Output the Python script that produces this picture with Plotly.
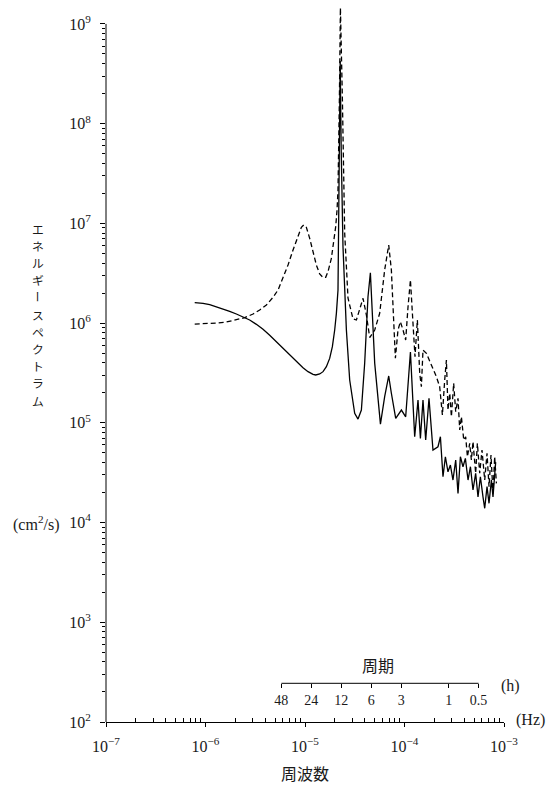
import plotly.graph_objects as go

# ---------------- data ----------------
freq_solid = [7.79e-7, 9.45e-7, 1.102e-6, 1.286e-6, 1.501e-6, 1.750e-6, 2.043e-6, 2.384e-6, 2.780e-6, 3.245e-6,
              3.786e-6, 4.418e-6, 5.157e-6, 6.014e-6, 7.018e-6, 8.19e-6, 9.55e-6, 1.073e-5, 1.204e-5, 1.281e-5,
              1.405e-5, 1.518e-5, 1.640e-5, 1.770e-5, 1.884e-5, 1.988e-5, 2.067e-5, 2.146e-5,
              2.216e-5, 2.258e-5, 2.311e-5, 2.409e-5, 2.606e-5, 2.813e-5, 3.158e-5,
              3.41e-5, 3.687e-5, 3.98e-5, 4.296e-5, 4.54e-5, 5.02e-5, 5.73e-5, 6.32e-5, 6.94e-5, 7.38e-5,
              8.16e-5, 9.31e-5, 1.028e-4, 1.147e-4, 1.266e-4, 1.367e-4, 1.445e-4, 1.534e-4, 1.633e-4, 1.763e-4,
              1.933e-4, 2.17e-4, 2.295e-4, 2.437e-4, 2.576e-4, 2.736e-4, 2.892e-4, 3.07e-4, 3.27e-4, 3.45e-4,
              3.646e-4, 3.87e-4, 4.09e-4, 4.35e-4, 4.60e-4, 4.88e-4, 5.19e-4, 5.48e-4, 5.79e-4, 6.15e-4,
              6.40e-4, 6.75e-4, 7.07e-4, 7.47e-4, 7.75e-4, 8.25e-4]
spec_solid = [1.603e6, 1.579e6, 1.530e6, 1.461e6, 1.395e6, 1.312e6, 1.234e6, 1.160e6, 1.074e6, 9.72e5,
              8.66e5, 7.54e5, 6.51e5, 5.58e5, 4.79e5, 4.10e5, 3.57e5, 3.26e5, 3.06e5, 3.02e5,
              3.09e5, 3.26e5, 3.66e5, 4.43e5, 5.80e5, 8.53e5, 1.253e6, 2.15e6,
              5.45e7, 4.25e8, 5.45e7, 5.84e6, 8.53e5, 2.69e5, 1.245e5,
              1.09e5, 1.344e5, 3.98e5, 1.84e6, 3.20e6, 3.95e5, 9.72e4, 1.83e5, 2.95e5, 1.98e5,
              1.11e5, 1.344e5, 1.15e5, 5.13e5, 7.25e4, 1.69e5, 6.99e4, 1.69e5, 6.72e4, 1.76e5,
              5.34e4, 5.76e4, 7.25e4, 2.88e4, 4.57e4, 3.23e4, 3.77e4, 2.67e4, 4.24e4, 1.96e4,
              4.57e4, 3.63e4, 4.40e4, 2.67e4, 3.63e4, 2.12e4, 3.12e4, 1.81e4, 2.88e4, 1.81e4,
              1.39e4, 2.29e4, 1.56e4, 2.67e4, 1.81e4, 4.04e4]

freq_dashed = [7.79e-7, 1.020e-6, 1.286e-6, 1.621e-6, 2.043e-6, 2.477e-6, 3.004e-6, 3.505e-6, 4.09e-6, 4.772e-6,
               5.358e-6, 6.014e-6, 6.75e-6, 7.58e-6, 8.51e-6, 9.19e-6, 9.70e-6, 1.032e-5, 1.115e-5, 1.204e-5,
               1.301e-5, 1.405e-5, 1.518e-5, 1.614e-5, 1.703e-5, 1.841e-5, 1.943e-5, 2.035e-5, 2.099e-5, 2.146e-5,
               2.216e-5, 2.269e-5, 2.377e-5,
               2.506e-5, 2.705e-5, 3.037e-5, 3.285e-5, 3.546e-5, 3.83e-5, 4.14e-5, 4.47e-5, 5.02e-5, 5.63e-5,
               6.32e-5, 6.94e-5, 7.38e-5, 7.79e-5, 8.10e-5, 8.60e-5, 9.09e-5, 9.66e-5, 1.028e-4, 1.085e-4,
               1.147e-4, 1.217e-4, 1.275e-4, 1.347e-4, 1.422e-4, 1.478e-4, 1.534e-4, 1.66e-4, 1.864e-4, 2.092e-4,
               2.258e-4, 2.404e-4, 2.535e-4, 2.637e-4, 2.736e-4, 2.85e-4, 2.96e-4, 3.12e-4, 3.27e-4, 3.45e-4,
               3.59e-4, 3.73e-4, 3.94e-4, 4.12e-4, 4.29e-4, 4.52e-4, 4.70e-4, 4.88e-4, 5.19e-4, 5.40e-4,
               5.70e-4, 6.01e-4, 6.40e-4, 6.75e-4, 7.07e-4, 7.40e-4, 7.75e-4, 8.06e-4, 8.39e-4]
spec_dashed = [9.79e5, 9.87e5, 1.002e6, 1.026e6, 1.074e6, 1.134e6, 1.234e6, 1.353e6, 1.519e6, 1.814e6,
               2.148e6, 2.81e6, 3.82e6, 5.41e6, 7.65e6, 9.13e6, 9.64e6, 9.13e6, 7.08e6, 5.21e6,
               3.82e6, 3.11e6, 2.86e6, 2.88e6, 3.28e6, 4.46e6, 6.31e6, 9.27e6, 1.363e7, 2.16e7,
               1.73e8, 1.447e9, 1.73e8,
               7.96e6, 1.786e6, 1.10e6, 1.074e6, 1.418e6, 1.773e6, 1.206e6, 7.17e5, 8.53e5, 1.254e6,
               3.41e6, 6.07e6, 3.41e6, 8.53e5, 4.44e5, 8.53e5, 1.033e6, 8.53e5, 6.77e5, 1.46e6,
               2.71e6, 9.95e5, 4.60e5, 1.074e6, 3.14e5, 2.30e5, 5.37e5, 4.98e5, 3.80e5, 2.90e5,
               2.30e5, 1.197e5, 2.69e5, 4.26e5, 1.344e5, 1.98e5, 1.15e5, 2.49e5, 1.292e5, 1.76e5,
               8.47e4, 1.15e5, 6.72e4, 7.25e4, 4.57e4, 6.23e4, 4.24e4, 6.46e4, 3.12e4, 6.23e4,
               3.12e4, 5.34e4, 2.67e4, 4.94e4, 2.29e4, 4.75e4, 1.96e4, 4.57e4, 2.47e4]

period_hours = [48, 24, 12, 6, 3, 1, 0.5]
period_labels = ["48", "24", "12", "6", "3", "1", "0.5"]

x_tick_vals = [1e-7, 1e-6, 1e-5, 1e-4, 1e-3]
x_tick_text = ["10<sup>−7</sup>", "10<sup>−6</sup>", "10<sup>−5</sup>", "10<sup>−4</sup>", "10<sup>−3</sup>"]
y_tick_vals = [1e2, 1e3, 1e4, 1e5, 1e6, 1e7, 1e8, 1e9]
y_tick_text = ["10<sup>2</sup>", "10<sup>3</sup>", "10<sup>4</sup>", "10<sup>5</sup>",
               "10<sup>6</sup>", "10<sup>7</sup>", "10<sup>8</sup>", "10<sup>9</sup>"]

y_title_chars = list("エネルギースペクトラム")
y_unit = "(cm<sup>2</sup>/s)"
x_title = "周波数"
x_unit = "(Hz)"
period_title = "周期"
period_unit = "(h)"

# ---------------- layout constants ----------------
W, H = 558, 791
ML, MR, MT, MB = 106, 54, 7, 69
PW, PH = W - ML - MR, H - MT - MB
YMIN, YMAX = 2, 9.17
SERIF = "Liberation Serif, DejaVu Serif, serif"
JP = "Noto Sans CJK JP, Noto Sans CJK SC, sans-serif"
TXT = "#1a1a1a"


def px(x):
    return (x - ML) / PW


def py(y):
    return (H - MB - y) / PH


period_freq = [1.0 / (h * 3600.0) for h in period_hours]
PERIOD_POS = py(683.3)
period_line_y = 10 ** (YMIN + PERIOD_POS * (YMAX - YMIN))

fig = go.Figure()
fig.add_trace(go.Scatter(x=freq_solid, y=spec_solid, mode="lines",
                         line=dict(color="black", width=1.3), showlegend=False, hoverinfo="skip"))
fig.add_trace(go.Scatter(x=freq_dashed, y=spec_dashed, mode="lines",
                         line=dict(color="black", width=1.3, dash="5px,3px"), showlegend=False, hoverinfo="skip"))
# period scale axis line
fig.add_trace(go.Scatter(x=[period_freq[0], period_freq[-1]], y=[period_line_y, period_line_y],
                         xaxis="x2", mode="lines", line=dict(color="black", width=1),
                         showlegend=False, hoverinfo="skip"))

minor_y = [m * 10 ** k for k in range(2, 9) for m in range(2, 10)]
minor_x = [m * 10 ** k for k in range(-7, -3) for m in range(2, 10)]

fig.update_layout(
    width=W, height=H,
    margin=dict(l=ML, r=MR, t=MT, b=MB),
    paper_bgcolor="white", plot_bgcolor="white",
    font=dict(family=SERIF, size=16, color=TXT),
    xaxis=dict(type="log", range=[-7, -3], showgrid=False, zeroline=False,
               showline=True, linecolor="black", linewidth=1,
               ticks="outside", ticklen=4, tickcolor="black", tickwidth=1,
               tickmode="array", tickvals=x_tick_vals, ticktext=x_tick_text,
               ticklabelstandoff=6,
               tickfont=dict(family=SERIF, size=16, color=TXT),
               minor=dict(ticks="inside", ticklen=4, tickcolor="black", tickwidth=1,
                          tickmode="array", tickvals=minor_x, showgrid=False)),
    xaxis2=dict(type="log", range=[-7, -3], overlaying="x", anchor="free", position=PERIOD_POS,
                side="bottom", showgrid=False, zeroline=False, showline=False,
                ticks="outside", ticklen=4, tickcolor="black", tickwidth=1,
                tickmode="array", tickvals=period_freq, ticktext=period_labels,
                tickfont=dict(family=SERIF, size=14, color=TXT)),
    yaxis=dict(type="log", range=[YMIN, YMAX], showgrid=False, zeroline=False, showline=False,
               ticks="outside", ticklen=5, tickcolor="black", tickwidth=1,
               tickmode="array", tickvals=y_tick_vals, ticktext=y_tick_text,
               ticklabelstandoff=6,
               tickfont=dict(family=SERIF, size=16, color=TXT),
               minor=dict(ticks="outside", ticklen=3, tickcolor="black", tickwidth=1,
                          tickmode="array", tickvals=minor_y, showgrid=False)),
)

# y axis line from 10^2 to 10^9 only
fig.add_shape(type="line", xref="paper", yref="paper", x0=0, x1=0,
              y0=0, y1=(9 - YMIN) / (YMAX - YMIN), line=dict(color="black", width=1))

# vertical y title: one character per slot, the long-vowel mark turned upright
y_start, y_step = 228, 17.2
for i, ch in enumerate(y_title_chars):
    fig.add_annotation(text=ch, xref="paper", yref="paper", x=px(38), y=py(y_start + i * y_step),
                       showarrow=False, xanchor="center", yanchor="middle",
                       textangle=90 if ch == "ー" else 0, borderpad=0, borderwidth=0,
                       font=dict(family=JP, size=11.8, color=TXT))

fig.add_annotation(text=y_unit, xref="paper", yref="paper", x=px(36), y=py(523),
                   showarrow=False, xanchor="center", yanchor="middle",
                   font=dict(family=SERIF, size=16, color=TXT))
fig.add_annotation(text=x_title, xref="paper", yref="paper", x=px(305), y=py(773),
                   showarrow=False, xanchor="center", yanchor="middle",
                   font=dict(family=JP, size=16, color=TXT))
fig.add_annotation(text=x_unit, xref="paper", yref="paper", x=px(530), y=py(720),
                   showarrow=False, xanchor="center", yanchor="middle",
                   font=dict(family=SERIF, size=16, color=TXT))
fig.add_annotation(text=period_title, xref="paper", yref="paper", x=px(378), y=py(665),
                   showarrow=False, xanchor="center", yanchor="middle",
                   font=dict(family=JP, size=16, color=TXT))
fig.add_annotation(text=period_unit, xref="paper", yref="paper", x=px(511), y=py(686),
                   showarrow=False, xanchor="center", yanchor="middle",
                   font=dict(family=SERIF, size=16, color=TXT))

fig.write_html("out.html", config={"displayModeBar": False},
               post_script="document.body.style.margin='0px';")
